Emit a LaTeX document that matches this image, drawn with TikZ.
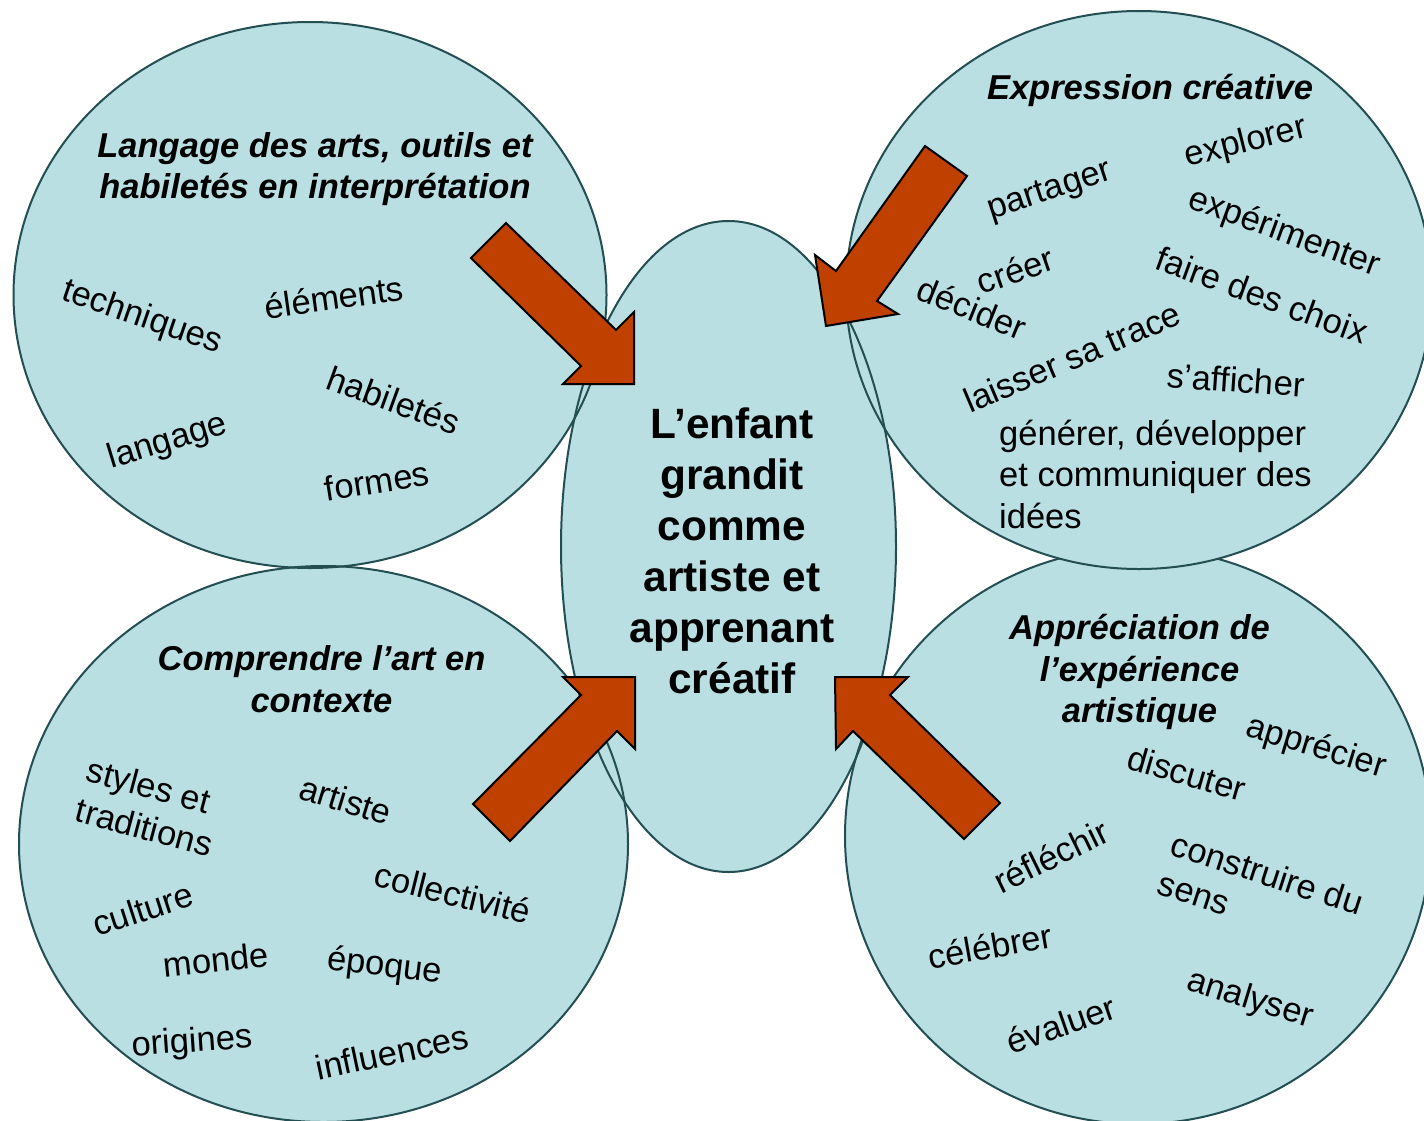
\documentclass[tikz,border=0pt]{standalone}
\usepackage{fontspec}
\setmainfont{Liberation Sans}
\definecolor{bubble}{RGB}{185,223,226}
\definecolor{rim}{RGB}{35,78,82}
\definecolor{arrowfill}{RGB}{192,64,0}
\begin{document}
\begin{tikzpicture}[x=1pt,y=-1pt,
  word/.style={font=\fontsize{34.5}{41.5}\selectfont, inner sep=0pt, align=left},
  title/.style={font=\fontsize{34.5}{41.5}\selectfont\bfseries\itshape, inner sep=0pt, align=center},
  core/.style={font=\fontsize{42.4}{51}\selectfont\bfseries, inner sep=0pt, align=center},
  rimline/.style={draw=rim, line width=2pt},
  blockarrow/.style={fill=arrowfill, draw=black, line width=2pt, line join=miter}]
\useasboundingbox (0,0) rectangle (1424,1120);
\fill[white] (0,0) rectangle (1424,1120);
% centres of the bubbles
\coordinate (tl) at (310,295);
\coordinate (tr) at (1139,290);
\coordinate (bl) at (323.5,844);
\coordinate (br) at (1138,836);
\coordinate (mid) at (728.5,546.5);
% fills
\fill[bubble] (tl) ellipse [x radius=296.5pt, y radius=273pt];
\fill[bubble] (bl) ellipse [x radius=304.5pt, y radius=278pt];
\fill[bubble] (br) ellipse [x radius=293pt, y radius=288pt];
\fill[bubble] (mid) ellipse [x radius=167.5pt, y radius=325.5pt];
\draw[rimline] (br) ellipse [x radius=293pt, y radius=288pt];
\fill[bubble] (tr) ellipse [x radius=293pt, y radius=279pt];
% outlines
\draw[rimline] (tl) ellipse [x radius=296.5pt, y radius=273pt];
\draw[rimline] (bl) ellipse [x radius=304.5pt, y radius=278pt];
\draw[rimline] (tr) ellipse [x radius=293pt, y radius=279pt];
\draw[rimline] (mid) ellipse [x radius=167.5pt, y radius=325.5pt];
% block arrows
\draw[blockarrow] (506,223) -- (616,330) -- (634,312) -- (634,384) -- (563,384) -- (581,366) -- (471,258) -- cycle;
\draw[blockarrow] (925,146) -- (967,176) -- (877,301) -- (898,314) -- (826,326) -- (815,255) -- (836,271) -- cycle;
\draw[blockarrow] (510,841) -- (617,731) -- (635,749) -- (635,677) -- (563,677) -- (581,695) -- (473,804) -- cycle;
\draw[blockarrow] (1000,803) -- (890,695) -- (908,677) -- (835,677) -- (836,749) -- (853,731) -- (964,839) -- cycle;
% centre
\node[core] (centre) at (732,551) {L’enfant\\grandit\\comme\\artiste et\\apprenant\\créatif};
% top left
\node[title] (t1) at (315,169) {Langage des arts, outils et\\habiletés en interprétation};
\node[word, rotate=-19] (a1) at (142,318) {techniques};
\node[word, rotate=8] (a2) at (334,297) {éléments};
\node[word, rotate=-20] (a3) at (394,400) {habiletés};
\node[word, rotate=17] (a4) at (168,442) {langage};
\node[word, rotate=9] (a5) at (377,481) {formes};
% top right
\node[title] (t2) at (1150,90) {Expression créative};
\node[word, rotate=14] (b1) at (1246,143) {explorer};
\node[word, rotate=18] (b2) at (1050,192) {partager};
\node[word, rotate=-20] (b3) at (1284,233) {expérimenter};
\node[word, rotate=19] (b4) at (1015,270) {créer};
\node[word, rotate=-22] (b5) at (972,308) {décider};
\node[word, rotate=-20] (b6) at (1262,295) {faire des choix};
\node[word, rotate=23] (b7) at (1072,357) {laisser sa trace};
\node[word, rotate=-4] (b8) at (1236,380) {s’afficher};
\node[word, anchor=west] (b9) at (999,474) {générer, développer\\et communiquer des\\idées};
% bottom left
\node[title] (t3) at (321.5,679) {Comprendre l’art en\\contexte};
\node[word, rotate=-15] (c1) at (150,807) {styles et\\traditions};
\node[word, rotate=-17] (c2) at (346,800) {artiste};
\node[word, rotate=-14] (c3) at (453,893) {collectivité};
\node[word, rotate=18] (c4) at (143,909) {culture};
\node[word, rotate=6] (c5) at (216,960) {monde};
\node[word, rotate=-7] (c6) at (385,967) {époque};
\node[word, rotate=4] (c7) at (192,1043) {origines};
\node[word, rotate=12] (c8) at (392,1052) {influences};
% bottom right
\node[title] (t4) at (1139.5,672) {Appréciation de\\l’expérience\\artistique};
\node[word, rotate=-17] (d1) at (1316,748) {apprécier};
\node[word, rotate=-16] (d2) at (1187,773) {discuter};
\node[word, rotate=26] (d3) at (1051,856) {réfléchir};
\node[word, rotate=-18] (d4) at (1261,893) {construire du\\sens};
\node[word, rotate=10] (d5) at (990,946) {célébrer};
\node[word, rotate=-17] (d6) at (1250,1000) {analyser};
\node[word, rotate=19] (d7) at (1061,1024) {évaluer};
\end{tikzpicture}
\end{document}
